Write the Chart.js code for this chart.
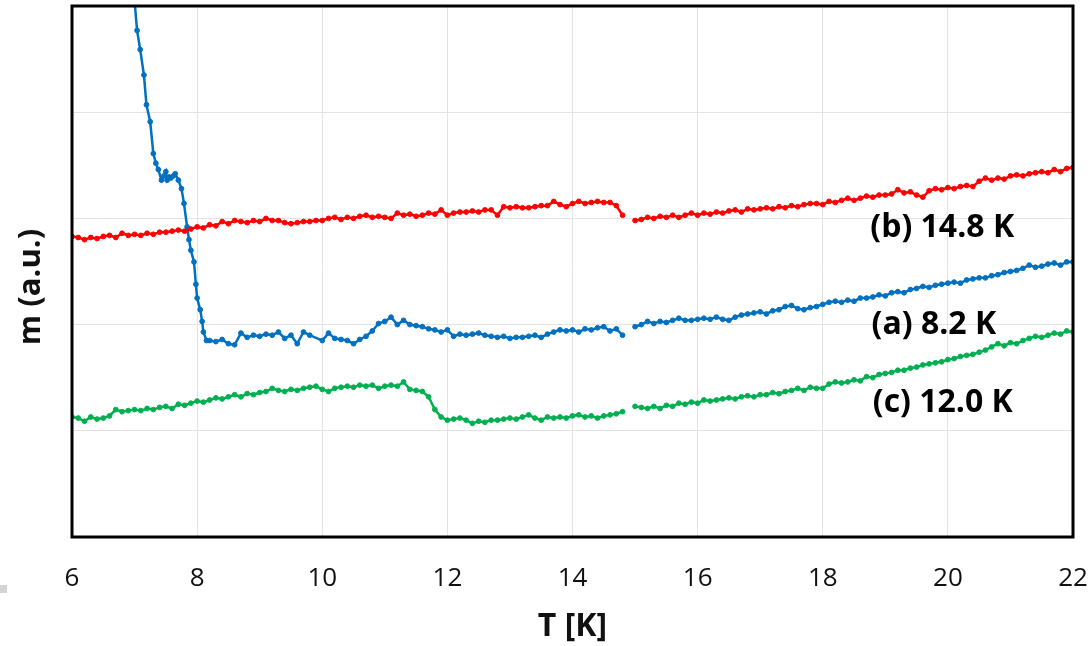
<!DOCTYPE html>
<html>
<head>
<meta charset="utf-8">
<script src="https://cdn.jsdelivr.net/npm/chart.js@4"></script>
<style>
  html, body { margin: 0; padding: 0; background: #fff; }
  #wrap { width: 1092px; height: 646px; }
</style>
</head>
<body>
<div id="wrap"><canvas id="mChart" width="1092" height="646"></canvas></div>
<script>
// Temperature grid (K) shared by curves (b) and (c)
const tempGrid = [
  6.0, 6.1, 6.2, 6.3, 6.4, 6.5, 6.6, 6.7, 6.8, 6.9,
  7.0, 7.1, 7.2, 7.3, 7.4, 7.5, 7.6, 7.7, 7.8, 7.9,
  8.0, 8.1, 8.2, 8.3, 8.4, 8.5, 8.6, 8.7, 8.8, 8.9,
  9.0, 9.1, 9.2, 9.3, 9.4, 9.5, 9.6, 9.7, 9.8, 9.9,
  10.0, 10.1, 10.2, 10.3, 10.4, 10.5, 10.6, 10.7, 10.8, 10.9,
  11.0, 11.1, 11.2, 11.3, 11.4, 11.5, 11.6, 11.7, 11.8, 11.9,
  12.0, 12.1, 12.2, 12.3, 12.4, 12.5, 12.6, 12.7, 12.8, 12.9,
  13.0, 13.1, 13.2, 13.3, 13.4, 13.5, 13.6, 13.7, 13.8, 13.9,
  14.0, 14.1, 14.2, 14.3, 14.4, 14.5, 14.6, 14.7, 14.8, 14.9,
  15.0, 15.1, 15.2, 15.3, 15.4, 15.5, 15.6, 15.7, 15.8, 15.9,
  16.0, 16.1, 16.2, 16.3, 16.4, 16.5, 16.6, 16.7, 16.8, 16.9,
  17.0, 17.1, 17.2, 17.3, 17.4, 17.5, 17.6, 17.7, 17.8, 17.9,
  18.0, 18.1, 18.2, 18.3, 18.4, 18.5, 18.6, 18.7, 18.8, 18.9,
  19.0, 19.1, 19.2, 19.3, 19.4, 19.5, 19.6, 19.7, 19.8, 19.9,
  20.0, 20.1, 20.2, 20.3, 20.4, 20.5, 20.6, 20.7, 20.8, 20.9,
  21.0, 21.1, 21.2, 21.3, 21.4, 21.5, 21.6, 21.7, 21.8, 21.9,
  22.0
];

// (b) 14.8 K - red
const mRed = [
  2.83, 2.82, 2.80, 2.82, 2.81, 2.83, 2.84, 2.82, 2.86, 2.84,
  2.85, 2.84, 2.86, 2.85, 2.87, 2.87, 2.88, 2.89, 2.88, 2.90,
  2.92, 2.91, 2.94, 2.93, 2.97, 2.95, 2.98, 2.97, 2.96, 2.98,
  2.97, 3.00, 2.98, 2.98, 2.96, 2.95, 2.96, 2.97, 2.97, 2.98,
  2.98, 3.00, 3.01, 2.99, 3.01, 3.00, 3.02, 3.03, 3.01, 3.02,
  3.01, 3.00, 3.05, 3.03, 3.04, 3.02, 3.03, 3.05, 3.04, 3.08,
  3.03, 3.05, 3.06, 3.06, 3.07, 3.06, 3.08, 3.08, 3.03, 3.11,
  3.10, 3.11, 3.10, 3.10, 3.11, 3.12, 3.12, 3.16, 3.13, 3.11,
  3.14, 3.16, 3.14, 3.15, 3.16, 3.15, 3.15, 3.12, 3.03, null,
  2.98, 2.99, 3.01, 3.00, 3.02, 3.01, 3.03, 3.01, 3.03, 3.05,
  3.03, 3.05, 3.04, 3.06, 3.05, 3.07, 3.08, 3.06, 3.09, 3.08,
  3.09, 3.10, 3.09, 3.11, 3.10, 3.12, 3.11, 3.13, 3.14, 3.14,
  3.13, 3.16, 3.15, 3.17, 3.19, 3.17, 3.19, 3.21, 3.20, 3.22,
  3.22, 3.23, 3.27, 3.24, 3.25, 3.22, 3.20, 3.26, 3.28, 3.27,
  3.29, 3.28, 3.30, 3.31, 3.30, 3.35, 3.38, 3.36, 3.38, 3.37,
  3.40, 3.41, 3.40, 3.42, 3.43, 3.44, 3.43, 3.46, 3.44, 3.47,
  3.48
];

// (c) 12.0 K - green
const mGreen = [
  1.13, 1.12, 1.09, 1.13, 1.11, 1.12, 1.14, 1.20, 1.18, 1.19,
  1.20, 1.19, 1.21, 1.20, 1.22, 1.23, 1.21, 1.25, 1.24, 1.26,
  1.28, 1.27, 1.29, 1.31, 1.30, 1.32, 1.34, 1.32, 1.35, 1.34,
  1.36, 1.37, 1.40, 1.38, 1.37, 1.39, 1.38, 1.40, 1.41, 1.42,
  1.39, 1.37, 1.40, 1.41, 1.42, 1.41, 1.43, 1.42, 1.43, 1.40,
  1.42, 1.43, 1.42, 1.46, 1.39, 1.38, 1.37, 1.32, 1.20, 1.13,
  1.10, 1.11, 1.12, 1.10, 1.07, 1.09, 1.08, 1.10, 1.10, 1.11,
  1.12, 1.11, 1.13, 1.15, 1.12, 1.10, 1.13, 1.12, 1.13, 1.12,
  1.14, 1.15, 1.13, 1.14, 1.12, 1.14, 1.15, 1.16, 1.18, null,
  1.23, 1.22, 1.21, 1.23, 1.21, 1.24, 1.23, 1.26, 1.25, 1.27,
  1.26, 1.29, 1.28, 1.29, 1.30, 1.31, 1.30, 1.32, 1.33, 1.32,
  1.34, 1.34, 1.36, 1.35, 1.37, 1.38, 1.40, 1.38, 1.41, 1.40,
  1.40, 1.44, 1.46, 1.45, 1.46, 1.48, 1.47, 1.51, 1.50, 1.53,
  1.54, 1.55, 1.57, 1.57, 1.59, 1.60, 1.62, 1.63, 1.64, 1.65,
  1.67, 1.68, 1.70, 1.71, 1.72, 1.74, 1.76, 1.79, 1.82, 1.80,
  1.83, 1.82, 1.85, 1.87, 1.89, 1.88, 1.90, 1.92, 1.91, 1.94,
  1.93
];

// (a) 8.2 K - blue, denser sampling through the drop
const tempBlue = [
  6.99, 7.04, 7.09, 7.15, 7.19, 7.25, 7.30, 7.34, 7.38, 7.43,
  7.47, 7.50, 7.52, 7.55, 7.58, 7.62, 7.65, 7.70, 7.75, 7.79,
  7.84, 7.87, 7.90, 7.95, 7.98, 8.00, 8.05, 8.08, 8.10, 8.15,
  8.2, 8.3, 8.4, 8.5, 8.6, 8.7, 8.8, 8.9,
  9.0, 9.1, 9.2, 9.3, 9.4, 9.5, 9.6, 9.7, 9.8,
  10.0, 10.1, 10.2, 10.3, 10.4, 10.5, 10.6, 10.7, 10.8, 10.9,
  11.0, 11.1, 11.2, 11.3, 11.4, 11.5, 11.6, 11.7, 11.8, 11.9,
  12.0, 12.1, 12.2, 12.3, 12.4, 12.5, 12.6, 12.7, 12.8, 12.9,
  13.0, 13.1, 13.2, 13.3, 13.4, 13.5, 13.6, 13.7, 13.8, 13.9,
  14.0, 14.1, 14.2, 14.3, 14.4, 14.5, 14.6, 14.7, 14.8, 14.9,
  15.0, 15.1, 15.2, 15.3, 15.4, 15.5, 15.6, 15.7, 15.8, 15.9,
  16.0, 16.1, 16.2, 16.3, 16.4, 16.5, 16.6, 16.7, 16.8, 16.9,
  17.0, 17.1, 17.2, 17.3, 17.4, 17.5, 17.6, 17.7, 17.8, 17.9,
  18.0, 18.1, 18.2, 18.3, 18.4, 18.5, 18.6, 18.7, 18.8, 18.9,
  19.0, 19.1, 19.2, 19.3, 19.4, 19.5, 19.6, 19.7, 19.8, 19.9,
  20.0, 20.1, 20.2, 20.3, 20.4, 20.5, 20.6, 20.7, 20.8, 20.9,
  21.0, 21.1, 21.2, 21.3, 21.4, 21.5, 21.6, 21.7, 21.8, 21.9,
  22.0
];
const mBlue = [
  5.12, 4.77, 4.59, 4.35, 4.07, 3.91, 3.61, 3.52, 3.46, 3.36,
  3.40, 3.44, 3.36, 3.39, 3.38, 3.40, 3.42, 3.36, 3.28, 3.14,
  2.92, 2.80, 2.70, 2.59, 2.38, 2.25, 2.14, 2.03, 1.93, 1.85,
  1.85, 1.84, 1.86, 1.82, 1.81, 1.92, 1.88, 1.90,
  1.89, 1.91, 1.90, 1.93, 1.87, 1.90, 1.82, 1.93, 1.90,
  1.85, 1.92, 1.87, 1.86, 1.85, 1.82, 1.86, 1.89, 1.94, 2.01,
  2.03, 2.07, 2.00, 2.04, 2.00, 1.99, 1.98, 1.96, 1.95, 1.93,
  1.95, 1.89, 1.91, 1.90, 1.91, 1.92, 1.90, 1.89, 1.88, 1.89,
  1.87, 1.88, 1.88, 1.89, 1.90, 1.88, 1.91, 1.93, 1.95, 1.94,
  1.95, 1.93, 1.96, 1.95, 1.97, 1.98, 1.94, 1.96, 1.90, null,
  1.98, 2.00, 2.03, 2.01, 2.03, 2.02, 2.04, 2.06, 2.04, 2.04,
  2.05, 2.06, 2.05, 2.07, 2.05, 2.04, 2.07, 2.09, 2.10, 2.11,
  2.12, 2.10, 2.13, 2.14, 2.17, 2.18, 2.15, 2.14, 2.16, 2.17,
  2.19, 2.21, 2.22, 2.21, 2.23, 2.22, 2.25, 2.25, 2.26, 2.28,
  2.27, 2.30, 2.31, 2.30, 2.33, 2.34, 2.36, 2.35, 2.37, 2.38,
  2.39, 2.40, 2.39, 2.42, 2.43, 2.44, 2.44, 2.46, 2.47, 2.49,
  2.50, 2.51, 2.53, 2.56, 2.54, 2.55, 2.57, 2.58, 2.56, 2.59,
  2.59
];

const xTicks = [6, 8, 10, 12, 14, 16, 18, 20, 22];

// curve labels, placed in data units
const labelTexts = ['(b) 14.8 K', '(a) 8.2 K', '(c) 12.0 K'];
const labelTemps = [18.76, 18.78, 18.80];
const labelMs = [2.91, 2.00, 1.26];

const FONT = "'Open Sans', 'Noto Sans', sans-serif";

function toPoints(xs, ys) {
  return xs.map((x, i) => ({ x: x, y: ys[i] }));
}

function series(label, xs, ys, color) {
  return {
    label: label,
    data: toPoints(xs, ys),
    showLine: true,
    spanGaps: false,
    borderColor: color,
    backgroundColor: color,
    borderWidth: 2.5,
    pointRadius: 2.4,
    pointBorderWidth: 1,
    pointHoverRadius: 2.4,
    tension: 0
  };
}

const frameAndLabels = {
  id: 'frameAndLabels',
  afterDatasetsDraw(chart) {
    const { ctx, chartArea: a, scales } = chart;
    ctx.save();
    ctx.strokeStyle = '#000';
    ctx.lineWidth = 3;
    ctx.strokeRect(a.left, a.top, a.right - a.left, a.bottom - a.top);

    ctx.fillStyle = '#000';
    ctx.font = 'bold 32px ' + FONT;
    ctx.textAlign = 'left';
    ctx.textBaseline = 'middle';
    labelTexts.forEach((t, i) => {
      ctx.fillText(t, scales.x.getPixelForValue(labelTemps[i]), scales.y.getPixelForValue(labelMs[i]));
    });

    // y axis title, sitting a little below the middle as in the original
    ctx.save();
    ctx.translate(31, 287);
    ctx.rotate(-Math.PI / 2);
    ctx.fillStyle = '#111';
    ctx.font = 'bold 31px ' + FONT;
    ctx.textAlign = 'center';
    ctx.fillText('m (a.u.)', 0, 0);
    ctx.restore();

    // small grey mark at the far left edge
    ctx.fillStyle = '#d4d4d4';
    ctx.fillRect(0, 585, 7, 8);
    ctx.restore();
  }
};

new Chart(document.getElementById('mChart'), {
  type: 'scatter',
  data: {
    datasets: [
      series('(b) 14.8 K', tempGrid, mRed, '#ff0000'),
      series('(a) 8.2 K', tempBlue, mBlue, '#0070c0'),
      series('(c) 12.0 K', tempGrid, mGreen, '#00b050')
    ]
  },
  options: {
    responsive: false,
    animation: false,
    events: [],
    layout: { padding: { top: 6, right: 19, left: 0, bottom: 0 } },
    plugins: {
      legend: { display: false },
      tooltip: { enabled: false }
    },
    scales: {
      x: {
        type: 'linear',
        min: 6,
        max: 22,
        afterBuildTicks: s => { s.ticks = xTicks.map(v => ({ value: v })); },
        afterFit: s => { s.height = 109; s.paddingLeft = 0; s.paddingRight = 0; },
        grid: { color: '#e3e3e3', lineWidth: 1, drawTicks: false },
        border: { display: false },
        ticks: { color: '#111', font: { family: FONT, size: 26 }, padding: 26, maxRotation: 0 },
        title: {
          display: true,
          text: 'T [K]',
          color: '#111',
          font: { family: FONT, size: 32, weight: 'bold' },
          padding: { top: 0, bottom: 0 }
        }
      },
      y: {
        type: 'linear',
        min: 0,
        max: 5,
        ticks: { stepSize: 1, display: false },
        afterFit: s => { s.width = 72; },
        grid: { color: '#e3e3e3', lineWidth: 1, drawTicks: false },
        border: { display: false },
        title: { display: false }
      }
    }
  },
  plugins: [frameAndLabels]
});
</script>
</body>
</html>
